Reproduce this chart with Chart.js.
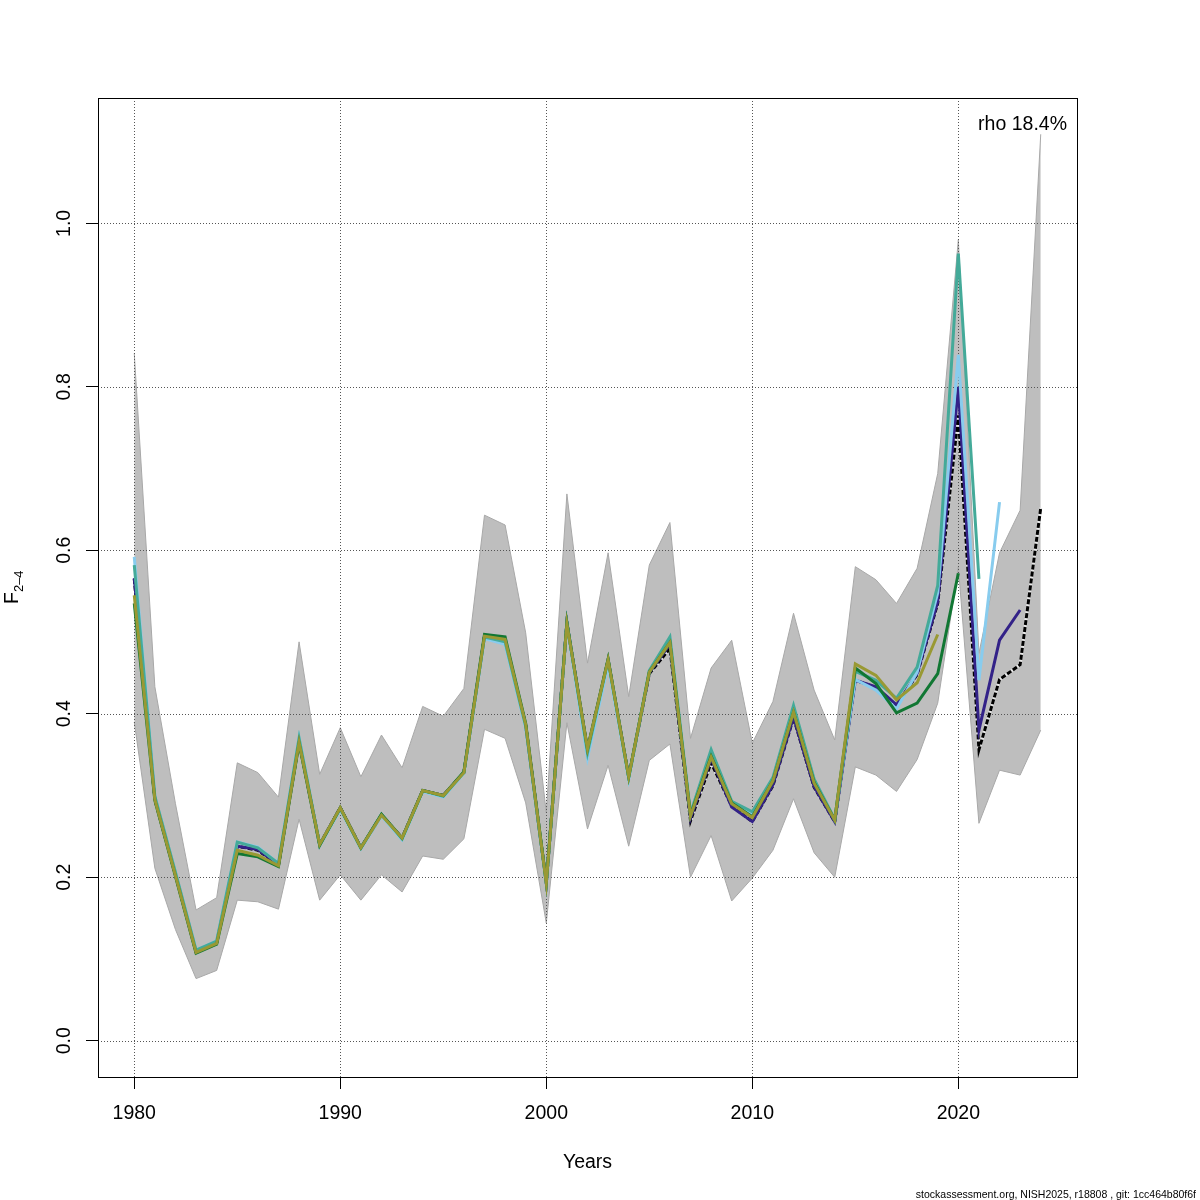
<!DOCTYPE html>
<html>
<head>
<meta charset="utf-8">
<script src="https://cdn.jsdelivr.net/npm/chart.js@4.4.0/dist/chart.umd.min.js"></script>
<style>
  html, body { margin: 0; padding: 0; background: #fff; }
  canvas { display: block; }
</style>
</head>
<body>
<canvas id="retro-chart" width="1200" height="1200"></canvas>
<script>
// Retrospective F(2-4) estimates, full run plus five peels
const years = [1980, 1981, 1982, 1983, 1984, 1985, 1986, 1987, 1988, 1989,
  1990, 1991, 1992, 1993, 1994, 1995, 1996, 1997, 1998, 1999,
  2000, 2001, 2002, 2003, 2004, 2005, 2006, 2007, 2008, 2009,
  2010, 2011, 2012, 2013, 2014, 2015, 2016, 2017, 2018, 2019,
  2020, 2021, 2022, 2023, 2024];

// confidence band of the full run
const bandLower = [0.390, 0.211, 0.136, 0.076, 0.086, 0.172, 0.170, 0.161, 0.271, 0.172,
  0.203, 0.172, 0.203, 0.182, 0.226, 0.222, 0.247, 0.381, 0.370, 0.291,
  0.144, 0.389, 0.259, 0.337, 0.238, 0.343, 0.363, 0.200, 0.251, 0.171,
  0.199, 0.233, 0.296, 0.230, 0.200, 0.335, 0.325, 0.305, 0.344, 0.413,
  0.580, 0.266, 0.331, 0.325, 0.380];
const bandUpper = [0.841, 0.433, 0.290, 0.160, 0.175, 0.340, 0.328, 0.298, 0.488, 0.326,
  0.383, 0.323, 0.374, 0.334, 0.409, 0.397, 0.431, 0.643, 0.631, 0.499,
  0.279, 0.669, 0.462, 0.597, 0.421, 0.582, 0.634, 0.370, 0.456, 0.490,
  0.364, 0.415, 0.523, 0.429, 0.368, 0.580, 0.564, 0.535, 0.578, 0.694,
  0.980, 0.474, 0.597, 0.649, 1.109];

const fullRun = [0.565, 0.295, 0.203, 0.109, 0.120, 0.238, 0.233, 0.215, 0.366, 0.240,
  0.285, 0.236, 0.276, 0.248, 0.306, 0.300, 0.328, 0.495, 0.490, 0.386,
  0.193, 0.511, 0.355, 0.465, 0.322, 0.449, 0.480, 0.269, 0.340, 0.287,
  0.268, 0.312, 0.395, 0.310, 0.268, 0.441, 0.432, 0.410, 0.448, 0.535,
  0.765, 0.356, 0.442, 0.460, 0.652];
const peel1 = [0.566, 0.296, 0.203, 0.109, 0.120, 0.238, 0.234, 0.215, 0.366, 0.240,
  0.285, 0.236, 0.276, 0.248, 0.306, 0.300, 0.328, 0.495, 0.490, 0.386,
  0.193, 0.511, 0.356, 0.466, 0.323, 0.450, 0.485, 0.272, 0.345, 0.286,
  0.268, 0.313, 0.396, 0.311, 0.268, 0.441, 0.433, 0.411, 0.449, 0.537,
  0.800, 0.380, 0.490, 0.527];
const peel2 = [0.592, 0.298, 0.205, 0.111, 0.122, 0.243, 0.237, 0.217, 0.370, 0.239,
  0.283, 0.235, 0.275, 0.246, 0.305, 0.298, 0.327, 0.492, 0.485, 0.383,
  0.192, 0.509, 0.346, 0.460, 0.320, 0.452, 0.490, 0.276, 0.352, 0.291,
  0.276, 0.320, 0.406, 0.318, 0.270, 0.442, 0.429, 0.406, 0.451, 0.548,
  0.839, 0.441, 0.659];
const peel3 = [0.582, 0.299, 0.206, 0.111, 0.122, 0.243, 0.236, 0.217, 0.370, 0.240,
  0.284, 0.236, 0.277, 0.247, 0.306, 0.299, 0.328, 0.494, 0.488, 0.385,
  0.193, 0.512, 0.352, 0.466, 0.322, 0.453, 0.494, 0.278, 0.356, 0.293,
  0.280, 0.322, 0.410, 0.320, 0.271, 0.452, 0.441, 0.419, 0.457, 0.557,
  0.963, 0.565];
const peel4 = [0.535, 0.294, 0.201, 0.107, 0.118, 0.229, 0.225, 0.213, 0.364, 0.239,
  0.285, 0.236, 0.277, 0.248, 0.306, 0.300, 0.329, 0.497, 0.494, 0.388,
  0.194, 0.511, 0.357, 0.467, 0.323, 0.451, 0.487, 0.276, 0.348, 0.291,
  0.274, 0.318, 0.402, 0.316, 0.270, 0.456, 0.437, 0.401, 0.413, 0.449,
  0.572];
const peel5 = [0.545, 0.295, 0.202, 0.108, 0.119, 0.233, 0.227, 0.214, 0.365, 0.240,
  0.285, 0.236, 0.276, 0.248, 0.306, 0.300, 0.328, 0.495, 0.491, 0.387,
  0.193, 0.510, 0.357, 0.466, 0.323, 0.451, 0.487, 0.275, 0.347, 0.290,
  0.273, 0.318, 0.402, 0.315, 0.270, 0.461, 0.447, 0.417, 0.438, 0.497];

const xTickValues = [1980, 1990, 2000, 2010, 2020];
const yTickValues = [0.0, 0.2, 0.4, 0.6, 0.8, 1.0];
const rhoText = 'rho 18.4%';
const footerText = 'stockassessment.org, NISH2025, r18808 , git: 1cc464b80f6f';

const FONT = "'Liberation Sans', Arial, Helvetica, sans-serif";
Chart.defaults.font.family = FONT;
Chart.defaults.color = '#000';

function toPoints(vals) {
  return vals.map((v, i) => ({ x: years[i], y: v }));
}

function lineSet(vals, color, width, dash) {
  return {
    data: toPoints(vals),
    borderColor: color,
    borderWidth: width,
    borderDash: dash || [],
    pointRadius: 0,
    fill: false,
    tension: 0
  };
}

// Chart.js paints the last dataset first, so the list runs from top to bottom
const bandUpperSet = lineSet(bandUpper, '#a8a8a8', 1);
bandUpperSet.fill = '+1';
bandUpperSet.backgroundColor = '#bebebe';

const datasets = [
  lineSet(peel5, '#999933', 3),
  lineSet(peel4, '#117733', 3),
  lineSet(peel3, '#44aa99', 3),
  lineSet(peel2, '#88ccee', 3),
  lineSet(peel1, '#332288', 3),
  lineSet(fullRun, '#000000', 3, [5, 2]),
  lineSet(fullRun, '#e8e8e8', 3),
  bandUpperSet,
  lineSet(bandLower, '#a8a8a8', 1)
];
const firstLineIndex = 6; // light underlay of the full run

// extra drawing: dotted grid between band and lines, box, rotated y labels, texts
const decorPlugin = {
  id: 'decor',
  beforeDatasetDraw(chart, args) {
    if (args.index !== firstLineIndex) return;
    const { ctx, chartArea: a, scales } = chart;
    ctx.save();
    ctx.strokeStyle = '#555';
    ctx.lineWidth = 1;
    ctx.setLineDash([1, 2]);
    xTickValues.forEach(v => {
      const px = Math.round(scales.x.getPixelForValue(v)) + 0.5;
      ctx.beginPath(); ctx.moveTo(px, a.top); ctx.lineTo(px, a.bottom); ctx.stroke();
    });
    yTickValues.forEach(v => {
      const py = Math.round(scales.y.getPixelForValue(v)) + 0.5;
      ctx.beginPath(); ctx.moveTo(a.left, py); ctx.lineTo(a.right, py); ctx.stroke();
    });
    ctx.restore();
  },
  afterDatasetsDraw(chart) {
    const { ctx, chartArea: a } = chart;
    ctx.save();
    ctx.strokeStyle = '#000';
    ctx.lineWidth = 1;
    ctx.strokeRect(Math.round(a.left) + 0.5, Math.round(a.top) + 0.5,
      Math.round(a.right - a.left), Math.round(a.bottom - a.top));
    ctx.restore();
  },
  afterDraw(chart) {
    const { ctx, scales } = chart;
    ctx.save();
    ctx.fillStyle = '#000';
    ctx.font = '19.5px ' + FONT;
    ctx.textAlign = 'center';
    ctx.textBaseline = 'alphabetic';
    yTickValues.forEach(v => {
      const py = scales.y.getPixelForValue(v);
      ctx.save();
      ctx.translate(70, py);
      ctx.rotate(-Math.PI / 2);
      ctx.fillText(v.toFixed(1), 0, 0);
      ctx.restore();
    });

    // y axis title F with subscript 2-4
    ctx.save();
    ctx.translate(17.5, 604);
    ctx.rotate(-Math.PI / 2);
    ctx.textAlign = 'left';
    ctx.font = '19.5px ' + FONT;
    ctx.fillText('F', 0, 0);
    const fw = ctx.measureText('F').width;
    ctx.font = '13px ' + FONT;
    ctx.fillText('2\u20134', fw, 5.5);
    ctx.restore();

    ctx.font = '19.5px ' + FONT;
    ctx.textAlign = 'right';
    ctx.fillText(rhoText, 1067, 130);

    ctx.font = '10.5px ' + FONT;
    ctx.fillText(footerText, 1196, 1198);
    ctx.restore();
  }
};

new Chart(document.getElementById('retro-chart'), {
  type: 'line',
  data: { datasets: datasets },
  options: {
    responsive: false,
    animation: false,
    devicePixelRatio: 1,
    layout: { padding: { top: 98, right: 123, left: 0, bottom: 0 } },
    plugins: {
      legend: { display: false },
      tooltip: { enabled: false },
      filler: { drawTime: 'beforeDatasetsDraw' }
    },
    scales: {
      x: {
        type: 'linear',
        min: 1978.24,
        max: 2025.76,
        afterBuildTicks: scale => { scale.ticks = xTickValues.map(v => ({ value: v })); },
        afterFit: scale => { scale.height = 123; },
        border: { display: false },
        grid: {
          drawOnChartArea: false,
          drawTicks: true,
          tickLength: 12,
          tickColor: '#000',
          tickWidth: 1
        },
        ticks: {
          padding: 13,
          maxRotation: 0,
          autoSkip: false,
          font: { size: 19.5 },
          color: '#000',
          callback: v => String(v)
        },
        title: {
          display: true,
          text: 'Years',
          font: { size: 19.5 },
          color: '#000',
          padding: { top: 0, bottom: 26 }
        }
      },
      y: {
        type: 'linear',
        min: -0.04436,
        max: 1.15336,
        afterBuildTicks: scale => { scale.ticks = yTickValues.map(v => ({ value: v })); },
        afterFit: scale => { scale.width = 98; },
        border: { display: false },
        grid: {
          drawOnChartArea: false,
          drawTicks: true,
          tickLength: 12,
          tickColor: '#000',
          tickWidth: 1
        },
        ticks: { display: false }
      }
    }
  },
  plugins: [decorPlugin]
});
</script>
</body>
</html>
